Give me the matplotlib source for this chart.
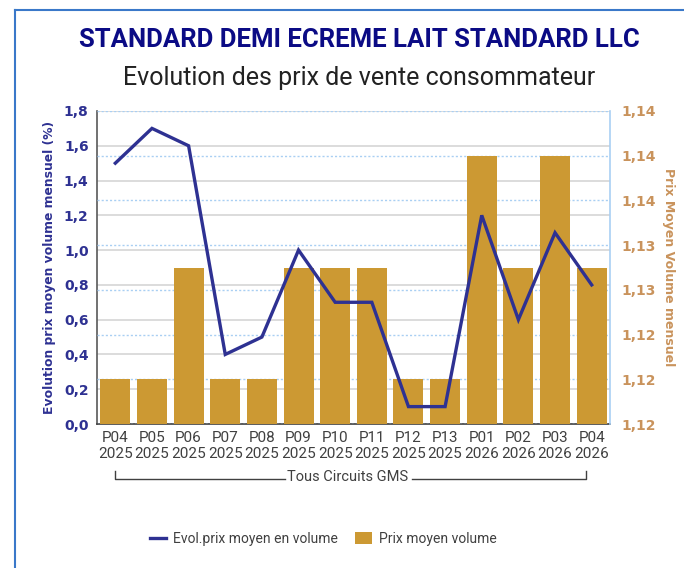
import matplotlib
matplotlib.use("Agg")
import matplotlib.pyplot as plt
from matplotlib.ticker import MultipleLocator, FuncFormatter
from matplotlib.lines import Line2D
from matplotlib.patches import Patch
import numpy as np

periods = ["P04", "P05", "P06", "P07", "P08", "P09", "P10", "P11", "P12", "P13", "P01", "P02", "P03", "P04"]
years = ["2025"] * 10 + ["2026"] * 4
evol_pct = [1.5, 1.7, 1.6, 0.4, 0.5, 1.0, 0.7, 0.7, 0.1, 0.1, 1.2, 0.6, 1.1, 0.8]
prix_moyen = [1.12, 1.12, 1.13, 1.12, 1.12, 1.13, 1.13, 1.13, 1.12, 1.12, 1.14, 1.13, 1.14, 1.13]

title = "STANDARD DEMI ECREME LAIT STANDARD LLC"
subtitle = "Evolution des prix de vente consommateur"
left_label = "Evolution prix moyen volume mensuel (%)"
right_label = "Prix Moyen Volume mensuel"
group_label = "Tous Circuits GMS"
legend_labels = ["Evol.prix moyen en volume", "Prix moyen volume"]

LINE_C = "#2e3192"
BAR_C = "#cc9933"
RIGHT_C = "#c9935c"
TITLE_C = "#0b0b85"
TXT_C = "#404040"

W, H = 684, 568
fig = plt.figure(figsize=(W / 100, H / 100), dpi=100)

def fx(px):
    return px / W

def fy(py):
    return 1 - py / H

# frame border
fig.add_artist(Line2D([fx(15), 1], [fy(10), fy(10)], color="#3a78c9", lw=1.5))
fig.add_artist(Line2D([fx(15), fx(15)], [fy(10), 0], color="#3a78c9", lw=1.5))

fig.text(fx(359), fy(40), title, ha="center", va="center", fontsize=18.5,
         fontweight="bold", color=TITLE_C, family="Roboto")
fig.text(fx(359), fy(78), subtitle, ha="center", va="center", fontsize=18,
         color="#222222", family="Roboto")

L, R, T, B = 97, 610, 111, 424
ax = fig.add_axes([fx(L), fy(B), fx(R - L), (B - T) / H])
ax2 = ax.twinx()

x = np.arange(len(periods))

# left axis
ax.set_ylim(0, 1.8)
ax.yaxis.set_major_locator(MultipleLocator(0.2))
ax.yaxis.set_major_formatter(FuncFormatter(lambda v, p: f"{v:.1f}".replace(".", ",")))
ax.set_xlim(-0.5, len(periods) - 0.5)
ax.set_xticks(x)
ax.set_xticklabels([f"{p}\n{y}" for p, y in zip(periods, years)], family="Roboto",
                   fontsize=11, color=TXT_C, linespacing=1.2)
ax.tick_params(axis="x", length=0, pad=5)
ax.tick_params(axis="y", length=0, pad=6, labelsize=10, labelcolor=LINE_C)
for t in ax.get_yticklabels():
    t.set_fontweight("bold")
ax.grid(axis="y", color="#d9d9d9", lw=1.3)
ax.set_axisbelow(True)
ax.set_ylabel(left_label, color=LINE_C, fontsize=8.9, fontweight="bold", labelpad=6)
for s in ["top", "right"]:
    ax.spines[s].set_visible(False)
ax.spines["left"].set_color("#595959")
ax.spines["left"].set_linewidth(1.2)
ax.spines["bottom"].set_color("#404040")
ax.spines["bottom"].set_linewidth(1.2)

# right axis
ax2.set_ylim(1.116, 1.144)
ax2.yaxis.set_major_locator(MultipleLocator(0.004))
ax2.yaxis.set_major_formatter(FuncFormatter(lambda v, p: f"{v:.2f}".replace(".", ",")))
ax2.tick_params(axis="y", length=0, pad=8, labelsize=10, labelcolor=RIGHT_C)
for t in ax2.get_yticklabels():
    t.set_fontweight("bold")
ax2.grid(axis="y", color="#a9cff3", lw=1.0, linestyle=(0, (1.5, 1.5)))
ax2.set_axisbelow(True)
ax2.set_ylabel(right_label, color=RIGHT_C, fontsize=9, fontweight="bold",
               rotation=270, labelpad=14)
for s in ["top", "left", "bottom"]:
    ax2.spines[s].set_visible(False)
ax2.spines["right"].set_color("#a9cff3")
ax2.spines["right"].set_linewidth(1.2)

ax2.bar(x, prix_moyen, width=0.82, bottom=0, color=BAR_C, zorder=2)
ax2.set_ylim(1.116, 1.144)
ax2.plot(x, evol_pct, color=LINE_C, lw=2.4, zorder=3, transform=ax.transData,
         solid_joinstyle="miter")
ax2.set_ylim(1.116, 1.144)
ax2.set_xlim(-0.5, len(periods) - 0.5)

# group bracket
by = fy(479)
fig.add_artist(Line2D([fx(115), fx(115), fx(285)], [fy(471), by, by], color="#404040", lw=1))
fig.add_artist(Line2D([fx(412), fx(586), fx(586)], [by, by, fy(471)], color="#404040", lw=1))
fig.text(fx(348), fy(477), group_label, ha="center", va="center", fontsize=10.5,
         color=TXT_C, family="Roboto")

handles = [Line2D([0], [0], color=LINE_C, lw=2.4),
           Patch(facecolor=BAR_C)]
fig.legend(handles, legend_labels, loc="center", bbox_to_anchor=(fx(323), fy(539)),
           ncol=2, frameon=False, prop={"family": "Roboto", "size": 10},
           labelcolor=TXT_C, handlelength=1.2, handleheight=0.9, columnspacing=1.2,
           handletextpad=0.5)

fig.savefig("out.png", dpi=100)
